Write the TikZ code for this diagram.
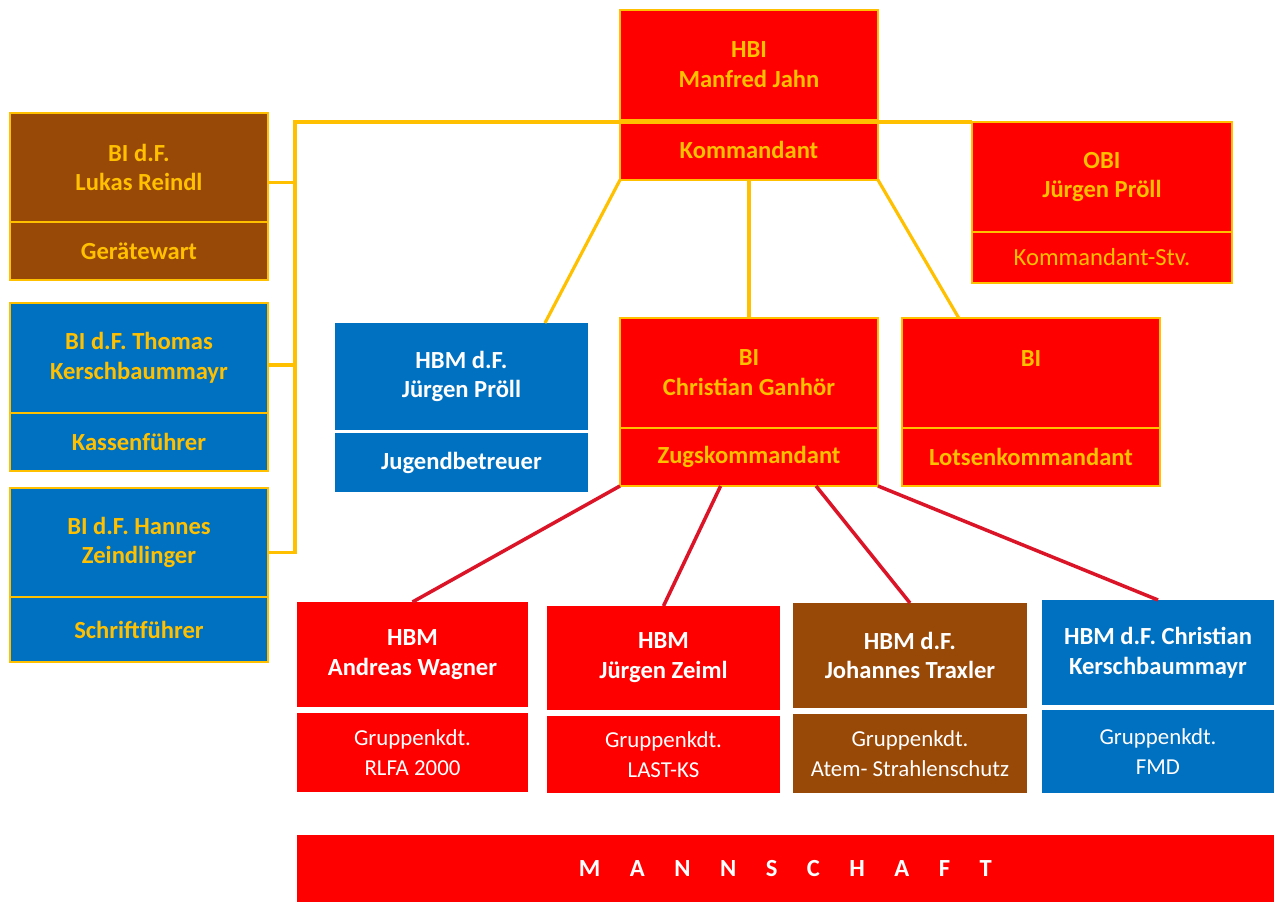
\documentclass[tikz,border=0pt]{standalone}
\usepackage{fontspec}
\setmainfont{Carlito}
\usepackage{tikz}
\usetikzlibrary{positioning, calc}
\definecolor{rot}{HTML}{FF0000}
\definecolor{gelb}{HTML}{FFC000}
\definecolor{braun}{HTML}{984807}
\definecolor{blau}{HTML}{0070C0}
\definecolor{linienrot}{HTML}{DC1428}
\newfontfamily\gesperrt[LetterSpace=120]{Carlito}

\begin{document}
\begin{tikzpicture}[x=0.02cm, y=-0.02cm,
    feld/.style={anchor=north west, align=center, inner sep=0pt, outer sep=0pt,
      font=\fontsize{14}{17}\selectfont\bfseries},
    rotfeld/.style={feld, fill=rot, draw=gelb, line width=1.6pt, text=gelb},
    braunfeld/.style={feld, fill=braun, draw=gelb, line width=1.6pt, text=gelb},
    blaufeld/.style={feld, fill=blau, draw=gelb, line width=1.6pt, text=gelb},
    unten/.style={feld, text=white},
    klein/.style={font=\fontsize{13}{17}\selectfont},
    gelblinie/.style={gelb, line width=1.8pt},
    rotlinie/.style={linienrot, line width=2pt}]
  \useasboundingbox (0,0) rectangle (1274,902);

  \node[rotfeld, minimum width=5.16cm, minimum height=2.2cm] (hbi) at (620,10) {HBI\\Manfred Jahn};
  \node[rotfeld, minimum width=5.16cm, minimum height=1.2cm, below=0pt of hbi.south west, anchor=north west] (hbiT) {Kommandant};

  \node[braunfeld, minimum width=5.16cm, minimum height=2.18cm] (reindl) at (10,113) {BI d.F.\\Lukas Reindl};
  \node[braunfeld, minimum width=5.16cm, minimum height=1.16cm, below=0pt of reindl.south west, anchor=north west] (reindlT) {Gerätewart};

  \node[blaufeld, minimum width=5.16cm, minimum height=2.2cm] (thomas) at (10,303) {BI d.F. Thomas\\Kerschbaummayr};
  \node[blaufeld, minimum width=5.16cm, minimum height=1.16cm, below=0pt of thomas.south west, anchor=north west] (thomasT) {Kassenführer};

  \node[blaufeld, minimum width=5.16cm, minimum height=2.18cm] (hannes) at (10,488) {BI d.F. Hannes\\Zeindlinger};
  \node[blaufeld, minimum width=5.16cm, minimum height=1.3cm, below=0pt of hannes.south west, anchor=north west] (hannesT) {Schriftführer};

  \node[rotfeld, minimum width=5.2cm, minimum height=2.2cm] (obi) at (972,122) {OBI\\Jürgen Pröll};
  \node[rotfeld, minimum width=5.2cm, minimum height=1.02cm, below=0pt of obi.south west, anchor=north west,
    font=\fontsize{14}{17}\selectfont] (obiT) {Kommandant-Stv.};

  \node[unten, fill=blau, minimum width=5.06cm, minimum height=2.14cm] (jugend) at (335,323) {HBM d.F.\\Jürgen Pröll};
  \node[unten, fill=blau, minimum width=5.06cm, minimum height=1.18cm, below=0.06cm of jugend.south west, anchor=north west] (jugendT) {Jugendbetreuer};

  \node[rotfeld, minimum width=5.16cm, minimum height=2.2cm] (ganhoer) at (620,318) {BI\\Christian Ganhör};
  \node[rotfeld, minimum width=5.16cm, minimum height=1.16cm, below=0pt of ganhoer.south west, anchor=north west] (ganhoerT) {Zugskommandant};

  \node[rotfeld, minimum width=5.16cm, minimum height=2.2cm] (lotsen) at (902,318) {BI\\\phantom{X}};
  \node[rotfeld, minimum width=5.16cm, minimum height=1.16cm, below=0pt of lotsen.south west, anchor=north west] (lotsenT) {Lotsenkommandant};

  \node[unten, fill=rot, minimum width=4.62cm, minimum height=2.1cm] (wagner) at (297,602) {HBM\\Andreas Wagner};
  \node[unten, klein, fill=rot, minimum width=4.62cm, minimum height=1.58cm, below=0.12cm of wagner.south west, anchor=north west] (wagnerT) {Gruppenkdt.\\RLFA 2000};

  \node[unten, fill=rot, minimum width=4.66cm, minimum height=2.08cm] (zeiml) at (547,606) {HBM\\Jürgen Zeiml};
  \node[unten, klein, fill=rot, minimum width=4.66cm, minimum height=1.54cm, below=0.12cm of zeiml.south west, anchor=north west] (zeimlT) {Gruppenkdt.\\LAST-KS};

  \node[unten, fill=braun, minimum width=4.68cm, minimum height=2.1cm] (traxler) at (793,603) {HBM d.F.\\Johannes Traxler};
  \node[unten, klein, fill=braun, minimum width=4.68cm, minimum height=1.58cm, below=0.12cm of traxler.south west, anchor=north west] (traxlerT) {Gruppenkdt.\\Atem- Strahlenschutz};

  \node[unten, fill=blau, minimum width=4.64cm, minimum height=2.1cm] (kersch) at (1042,600) {HBM d.F. Christian\\Kerschbaummayr};
  \node[unten, klein, fill=blau, minimum width=4.64cm, minimum height=1.66cm, below=0.1cm of kersch.south west, anchor=north west] (kerschT) {Gruppenkdt.\\FMD};

  \node[unten, fill=rot, minimum width=19.54cm, minimum height=1.34cm] (mann) at (297,835) {\gesperrt\bfseries MANNSCHAFT};

  \coordinate (bus) at (295,122);
  \draw[gelblinie] (obi.north west) -- (bus) |- ([yshift=-0.2cm]hannes.east);
  \draw[gelblinie] ([yshift=-0.3cm]reindl.east) -| (bus);
  \draw[gelblinie] ([yshift=-0.14cm]thomas.east) -| (bus);

  \draw[gelblinie] (hbiT.south west) -- ($(jugend.north west)!0.83!(jugend.north east)$);
  \draw[gelblinie] (hbiT.south) -- (ganhoer.north);
  \draw[gelblinie] (hbiT.south east) -- ($(lotsen.north west)!0.22!(lotsen.north east)$);

  \draw[rotlinie] (ganhoerT.south west) -- (wagner.north);
  \draw[rotlinie] ($(ganhoerT.south west)!0.39!(ganhoerT.south east)$) -- (zeiml.north);
  \draw[rotlinie] ($(ganhoerT.south west)!0.76!(ganhoerT.south east)$) -- (traxler.north);
  \draw[rotlinie] (ganhoerT.south east) -- (kersch.north);
\end{tikzpicture}
\end{document}
